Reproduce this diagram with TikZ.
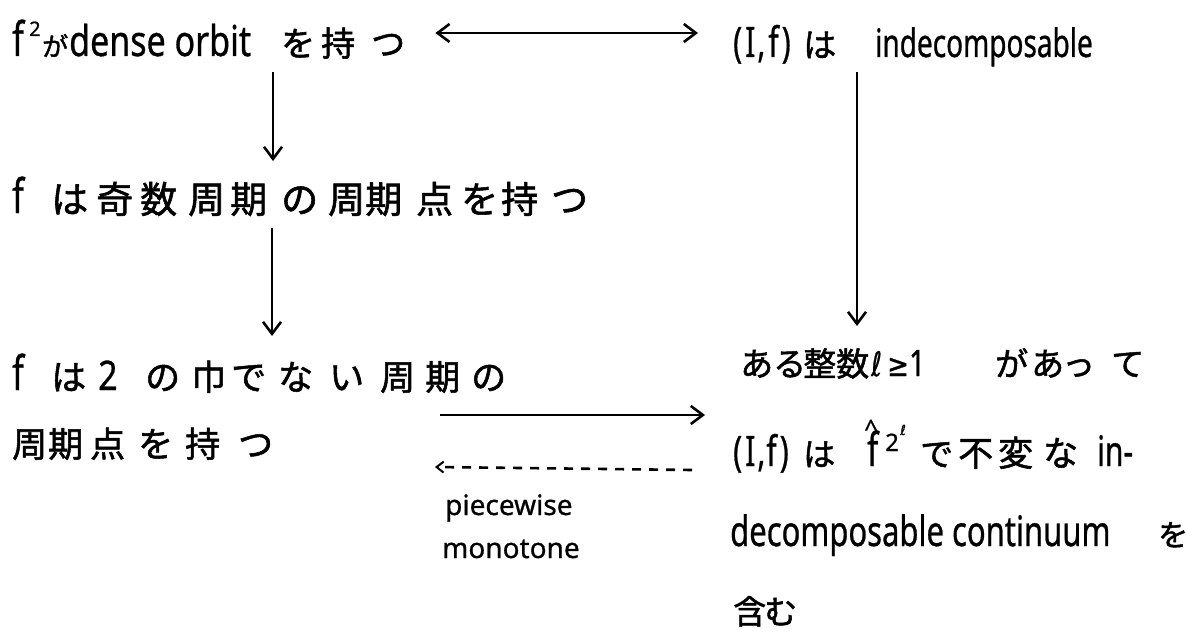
\documentclass[tikz,border=0pt]{standalone}
\usepackage{fontspec}
\usepackage{graphicx}
\setmainfont{Noto Sans}[FakeBold=0.8]
\newfontfamily\jp{Noto Sans CJK JP}[FakeBold=1.5]
\newfontfamily\dvs{DejaVu Sans}[FakeBold=0.8]
\usetikzlibrary{arrows.meta,calc}
\newcommand\ch[2]{\rlap{\hskip#1pt\relax#2}}
\newcommand\J[2][37]{{\jp\fontsize{#1}{#1}\selectfont #2}}
\newcommand\LT[3][1.3]{\scalebox{1}[#1]{\fontsize{#2}{#2}\selectfont #3}}
\begin{document}
\begin{tikzpicture}[x=1pt,y=-1pt,
  txt/.style={inner sep=0pt, anchor=base west},
  lbl/.style={font=\fontsize{28}{30}\selectfont, inner sep=0pt, anchor=base west},
  arr/.style={-{Straight Barb[length=12pt,width=18pt,line width=2.6pt]}, line width=2.7pt},
  darr/.style={{Straight Barb[length=12pt,width=18pt,line width=2.6pt]}-{Straight Barb[length=12pt,width=18pt,line width=2.6pt]}, line width=2.7pt},
  dasharr/.style={-{Straight Barb[length=7pt,width=11pt,line width=2pt]}, line width=2.6pt, dash pattern=on 9pt off 8pt}]
\fill[white] (0,0) rectangle (1186,634);
\path[use as bounding box] (0,0) rectangle (1186,634);

% top left
\node[txt] (n1) at (12,56) {\ch{0}{\LT[1.4]{34}{f}}\ch{17}{\raisebox{20pt}{\fontsize{20}{20}\selectfont 2}}\ch{30}{\J[26]{が}}\ch{57}{\LT[1.25]{34}{dense orbit}}\ch{269}{\J[34]{を}}\ch{309}{\J[34]{持}}\ch{359}{\J[34]{つ}}\hspace*{388pt}};
% top right
\node[txt] (n2) at (733,57) {\ch{0}{\LT[1.4]{30}{(\kern3pt I\kern2pt,\kern3pt f\kern3pt)}}\ch{70}{\J[33]{は}}\ch{142}{\LT[1.4]{28}{indecomposable}}\hspace*{362pt}};
% line 3
\node[txt] (n3) at (12,213) {\ch{0}{\LT[1.4]{34}{f}}\ch{39}{\J{は}}\ch{84}{\J{奇}}\ch{128}{\J{数}}\ch{176}{\J{周}}\ch{218}{\J{期}}\ch{269}{\J{の}}\ch{316}{\J{周}}\ch{353}{\J{期}}\ch{404}{\J{点}}\ch{449}{\J{を}}\ch{489}{\J{持}}\ch{539}{\J{つ}}\hspace*{568pt}};
% line 4
\node[txt] (n4a) at (12,390) {\ch{0}{\LT[1.4]{34}{f}}\ch{39}{\J[35]{は}}\ch{86}{\LT[1.2]{34}{2}}\ch{133}{\J[35]{の}}\ch{179}{\J[35]{巾}}\ch{219}{\J[35]{で}}\ch{266}{\J[35]{な}}\ch{317}{\J[35]{い}}\ch{368}{\J[35]{周}}\ch{413}{\J[35]{期}}\ch{459}{\J[35]{の}}\hspace*{488pt}};
\node[txt] (n4b) at (12,457) {\ch{0}{\J[35]{周}}\ch{36}{\J[35]{期}}\ch{78}{\J[35]{点}}\ch{126}{\J[35]{を}}\ch{173}{\J[35]{持}}\ch{226}{\J[35]{つ}}\hspace*{258pt}};
% right block
\node[txt] (n5a) at (740,376) {\ch{0}{\J[33]{あ}}\ch{33}{\J[33]{る}}\ch{63}{\J[33]{整}}\ch{96}{\J[33]{数}}\ch{131}{\LT[1.3]{26}{\dvs ℓ}}\ch{147}{\LT[1.2]{26}{\dvs ≥}}\ch{169}{\LT[1.3]{28}{1}}\ch{255}{\J[33]{が}}\ch{291}{\J[33]{あ}}\ch{322}{\J[33]{っ}}\ch{371}{\J[33]{て}}\hspace*{405pt}};
\node[txt] (n5b) at (733,466) {\ch{0}{\LT[1.4]{30}{(\kern3pt I\kern2pt,\kern1pt f\kern3pt)}}\ch{70}{\J[32]{は}}\ch{131}{\raisebox{29pt}{\fontsize{24}{24}\selectfont\textasciicircum}}\ch{134}{\LT[1.45]{32}{f}}\ch{152}{\raisebox{15pt}{\fontsize{24}{24}\selectfont 2}}\ch{167}{\raisebox{31pt}{\fontsize{14}{14}\selectfont\dvs ℓ}}\ch{187}{\J[33]{で}}\ch{225}{\J[35]{不}}\ch{265}{\J[35]{変}}\ch{310}{\J[35]{な}}\ch{364}{\LT[1.4]{30}{in-}}\hspace*{405pt}};
\node[txt] (n5c) at (730,546) {\ch{0}{\LT[1.35]{31}{decomposable continuum}}\ch{428}{\J[30]{を}}\hspace*{453pt}};
\node[txt] (n5d) at (733,624) {\ch{0}{\J[33]{含}}\ch{31}{\J[33]{む}}\hspace*{56pt}};

% label
\node[lbl] (pw) at (445,515) {piecewise};
\node[lbl] (mt) at (442,558) {monotone};

% connectors
\draw[darr] ($(n1.base east)+(35,-23)$) -- ($(n2.base west)+(-35,-24)$);
\draw[arr] ($(n1.base west)+(261,16)$) -- ($(n3.base west)+(261,-52)$);
\draw[arr] ($(n3.base west)+(260,15)$) -- ($(n4a.base west)+(260,-54)$);
\draw[arr] ($(n2.base west)+(124,15)$) -- ($(n5a.base west)+(117,-50)$);
\draw[arr] ($(n4a.base east)+(-60,25)$) -- ($(n5b.base west)+(-28,-51)$);
\draw[dasharr] ($(n5b.base west)+(-41,4)$) -- ($(pw.base west)+(-10,-48)$);
\end{tikzpicture}
\end{document}
